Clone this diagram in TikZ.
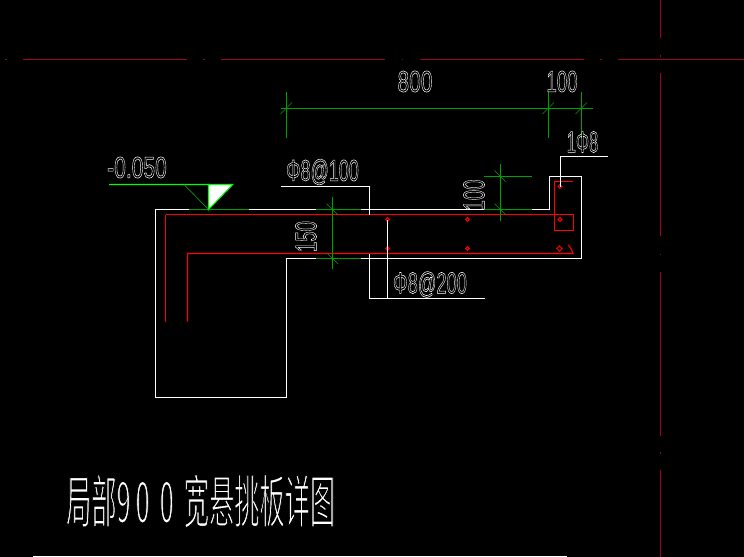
\documentclass[tikz,border=0pt]{standalone}
\usepackage{fontspec}
\setmainfont{Liberation Sans}
\newfontfamily\cjkfont{Noto Sans CJK SC}
\usetikzlibrary{positioning}
\newcommand{\cadhollow}[1]{\special{pdf:code q 1 Tr 0.42 w}#1\special{pdf:code Q}}
\newcommand{\cadthin}[1]{\special{pdf:code q 2 Tr 1.1 w 0 G}#1\special{pdf:code Q}}
\definecolor{axisred}{HTML}{A00028}
\definecolor{dimgreen}{HTML}{00A000}
\definecolor{levelgreen}{HTML}{00FF00}
\tikzset{
	wall/.style={white, line width=0.9pt},
	rebar/.style={red, line width=0.8pt},
	dimline/.style={dimgreen, line width=0.75pt},
	leader/.style={white, line width=0.75pt},
	axisline/.style={axisred, line width=0.75pt},
	barmark/.style={red, line width=0.7pt},
	cadtext/.style={white, inner sep=0pt, xscale=#1, font=\fontsize{22.5}{22.5}\selectfont},
	cadtext/.default=0.7,
	cadvert/.style={white, inner sep=0pt, yscale=0.62, rotate=90, font=\fontsize{22.5}{22.5}\selectfont},
}
\newcommand{\tickup}[2]{\draw [dimline, line width=0.5pt] (#1-6,#2+5.5) -- (#1+5.5,#2-6);}
\newcommand{\tickdown}[2]{\draw [dimline, line width=0.5pt] (#1-6,#2-6) -- (#1+5.5,#2+5.5);}
\begin{document}
\begin{tikzpicture}[x=0.75pt, y=-0.75pt]
	\fill [black] (0,0) rectangle (744,557);
	\useasboundingbox (0,0) rectangle (744,557);
	% axis lines
	\draw [axisline] (22.8,59.5) -- (187,59.5) (221,59.5) -- (385,59.5) (420,59.5) -- (584,59.5) (618,59.5) -- (744,59.5);
	\draw [axisline] (5,59.5) -- (7,59.5) (203,59.5) -- (205,59.5) (401.5,59.5) -- (403,59.5) (600,59.5) -- (602,59.5);
	\draw [axisline] (660.5,0) -- (660.5,38) (660.5,72.8) -- (660.5,236) (660.5,272) -- (660.5,435.5) (660.5,470) -- (660.5,557);
	\draw [axisline] (660.5,55) -- (660.5,57) (660.5,253.5) -- (660.5,255) (660.5,451.5) -- (660.5,453.5);
	% outline of slab and beam
	\draw [wall] (549.5,209.5) -- (549.5,176.5) -- (581.5,176.5) -- (581.5,258.5) -- (286.5,258.5) -- (286.5,397.5) -- (155.5,397.5) -- (155.5,209.5) -- (189,209.5);
	\draw [wall] (249,209.5) -- (316,209.5) (361,209.5) -- (484,209.5) (532,209.5) -- (549.5,209.5);
	\draw [dimline] (189,209.5) -- (249,209.5) (316,209.5) -- (361,209.5) (484,209.5) -- (532,209.5);
	\draw [dimline] (316,258.5) -- (361,258.5) (484,176.5) -- (532,176.5);
	% rebar
	\draw [rebar, line width=1.2pt] (165.5,214.5) -- (573.5,214.5);
	\draw [rebar] (165.5,321.7) -- (165.5,214.5);
	\draw [rebar] (187.5,321.7) -- (187.5,253.5) -- (573,253.5) .. controls (571.5,249.5) and (570.5,247) .. (568.3,245);
	\draw [rebar, line width=1pt] (572.7,181.5) -- (554.5,181.5) -- (554.5,230.5) -- (573.5,230.5) -- (573.5,214.5);
	\foreach \barx/\bary in {387.5/219.5, 467.5/219.5, 560/219.5, 387.5/248.5, 467.5/248.5, 560/186.5}
		\draw [barmark] (\barx,\bary) circle (1.9);
	\draw [barmark] (559.5,245.8) -- (562.2,248.5) -- (559.5,251.2) -- (556.8,248.5) -- cycle;
	% leaders
	\draw [leader] (281,186.5) -- (369.5,186.5) -- (369.5,214.5);
	\draw [leader] (369.5,254) -- (369.5,298.5) -- (485,298.5);
	\draw [leader] (387.5,219.5) -- (387.5,298.5);
	\draw [leader] (560.5,186.5) -- (560.5,156.5) -- (607.7,156.5);
	% dimensions
	\draw [dimline] (280.7,108.5) -- (592.7,108.5);
	\foreach \dimx in {286.5, 548.5, 581.5} {
		\draw [dimline] (\dimx,92.3) -- (\dimx,138.3);
		\tickup{\dimx}{108.5}
	}
	\draw [dimline] (332.5,196.7) -- (332.5,269.3);
	\tickdown{332.5}{209.5}
	\tickdown{332.5}{258.5}
	\draw [dimline] (500.5,164) -- (500.5,220.7);
	\tickdown{500.5}{176.5}
	\tickdown{500.5}{209.5}
	% level mark
	\fill [white] (208.5,184.5) -- (232.7,184.5) -- (208.5,209.5) -- cycle;
	\draw [levelgreen, line width=0.8pt] (109,184.5) -- (232.7,184.5) -- (208.5,209.5) -- (208.5,184.5);
	\draw [dimline, line width=0.5pt] (184,184.5) -- (208.5,209.5);
	% labels
	\node [cadtext] (level) at (137,167.5) {\cadhollow{-0.050}};
	\node [cadtext=0.6] (topbar) at (322.5,172) {\cadhollow{Φ8@100}};
	\node [cadtext=0.61] (botbar) at (430,284.5) {\cadhollow{Φ8@200}};
	\node [cadtext=0.55] (cornerbar) at (582.5,142) {\cadhollow{1Φ8}};
	\node [cadtext] (spanlong) at (415,81.5) {\cadhollow{800}};
	\node [cadtext=0.62] (spanshort) at (562,81.5) {\cadhollow{100}};
	\node [cadvert] (depth) at (306,236.5) {\cadhollow{150}};
	\node [cadvert] (lip) at (474,195) {\cadhollow{100}};
	\node [white, inner sep=0pt, xscale=0.44, font=\fontsize{43}{43}\selectfont\cjkfont, anchor=west] (title) at (66,501) {\cadthin{局部9\kern0.2em 0\kern0.4em 0\kern0.4em 宽悬挑板详图}};
	% bottom edge
	\draw [white, line width=1pt] (33,556.5) -- (567,556.5);
\end{tikzpicture}
\end{document}
